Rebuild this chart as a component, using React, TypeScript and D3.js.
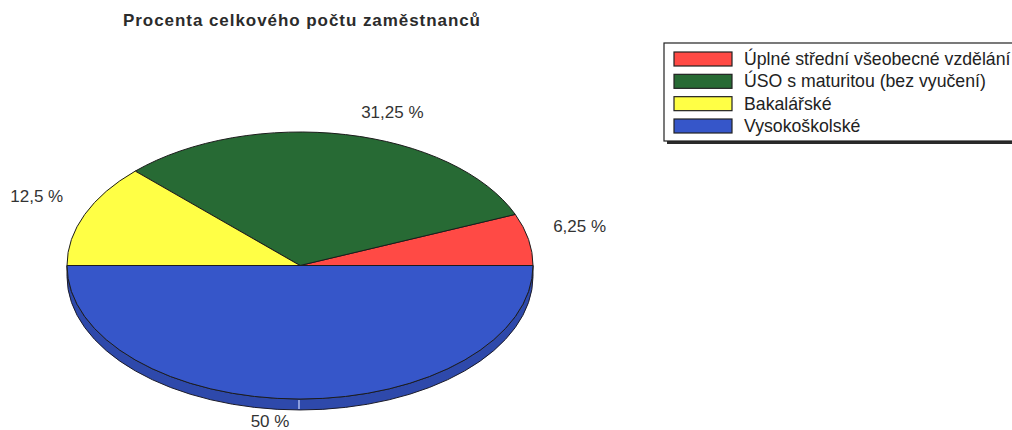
import React, { useEffect, useRef } from 'react'
import * as d3 from 'd3'

// data
const categories = [
  'Úplné střední všeobecné vzdělání',
  'ÚSO s maturitou (bez vyučení)',
  'Bakalářské',
  'Vysokoškolské',
]
const percents = [6.25, 31.25, 12.5, 50]
const valueLabels = ['6,25 %', '31,25 %', '12,5 %', '50 %']
const colors = ['#ff4a45', '#276a34', '#ffff45', '#3656c9']
const title = 'Procenta celkového počtu zaměstnanců'

// label nudges (layout only, dx/dy in px)
const labelNudge = [
  [5, -8],
  [43, 2],
  [-3, -8],
  [-30, -14],
]

export default function App() {
  const ref = useRef(null)

  useEffect(() => {
    const W = 1012, H = 430
    d3.select(ref.current).selectAll('*').remove()
    const svg = d3.select(ref.current)
      .append('svg')
      .attr('width', W)
      .attr('height', H)
      .style('position', 'absolute')
      .style('left', 0)
      .style('top', 0)
      .style('background', '#fff')
      .style('font-family', 'Arial, "Liberation Sans", sans-serif')

    // title
    svg.append('text')
      .attr('x', 301.5)
      .attr('y', 20)
      .attr('text-anchor', 'middle')
      .attr('dominant-baseline', 'central')
      .attr('font-size', 17)
      .attr('font-weight', 'bold')
      .attr('fill', '#2b2b2b')
      .attr('textLength', 357)
      .attr('lengthAdjust', 'spacing')
      .text(title)

    // pie geometry (flattened ellipse + depth)
    const cx = 300, cy = 265.5, rx = 233, ry = 133.5, depth = 11

    // d3 angles: 0 = 12 o'clock; start at 3 o'clock and go counter-clockwise
    const pie = d3.pie<number>().sort(null)
      .startAngle(Math.PI / 2)
      .endAngle(Math.PI / 2 - 2 * Math.PI)
    const arcs = pie(percents)

    const pt = (a, dy = 0) => [cx + rx * Math.sin(a), cy - ry * Math.cos(a) + dy]

    // side wall, front half only (it is all the blue slice)
    const rgt = pt(Math.PI / 2), lft = pt(-Math.PI / 2)
    const sideColor = d3.color(colors[3]).darker(0.45).toString()
    svg.append('path')
      .attr('d', `M${rgt[0]},${rgt[1]} A${rx},${ry} 0 0 1 ${lft[0]},${lft[1]}`
        + ` L${lft[0]},${lft[1] + depth} A${rx},${ry} 0 0 0 ${rgt[0]},${rgt[1] + depth} Z`)
      .attr('fill', sideColor)
      .attr('stroke', '#1c1c2a')
      .attr('stroke-width', 1)

    // leader tick on the wall
    const bot = pt(Math.PI)
    svg.append('line')
      .attr('x1', bot[0] - 1).attr('x2', bot[0] - 1)
      .attr('y1', bot[1] + 1).attr('y2', bot[1] + depth - 1)
      .attr('stroke', '#c9d6ff')
      .attr('stroke-width', 1.2)

    // top face slices
    svg.append('g')
      .selectAll('path')
      .data(arcs)
      .enter()
      .append('path')
      .attr('d', d => {
        const p0 = pt(d.startAngle), p1 = pt(d.endAngle)
        const large = Math.abs(d.endAngle - d.startAngle) > Math.PI ? 1 : 0
        return `M${cx},${cy} L${p0[0]},${p0[1]} A${rx},${ry} 0 ${large} 0 ${p1[0]},${p1[1]} Z`
      })
      .attr('fill', (d, i) => colors[i])
      .attr('stroke', '#1c1c1c')
      .attr('stroke-width', 1)
      .attr('stroke-linejoin', 'round')

    // value labels, placed outside the ellipse at the mid angle
    svg.append('g')
      .selectAll('text')
      .data(arcs)
      .enter()
      .append('text')
      .attr('x', (d, i) => {
        const a = (d.startAngle + d.endAngle) / 2
        return cx + (rx + 20) * Math.sin(a) + labelNudge[i][0]
      })
      .attr('y', (d, i) => {
        const a = (d.startAngle + d.endAngle) / 2
        const c = Math.cos(a)
        return cy - (ry + 25) * c + (c < 0 ? depth : 0) + labelNudge[i][1]
      })
      .attr('text-anchor', d => {
        const s = Math.sin((d.startAngle + d.endAngle) / 2)
        return s > 0.3 ? 'start' : s < -0.3 ? 'end' : 'middle'
      })
      .attr('dominant-baseline', 'central')
      .attr('font-size', 17)
      .attr('fill', '#333')
      .text((d, i) => valueLabels[i])

    // legend (box runs off the right edge like the original)
    const lg = svg.append('g')
    lg.append('rect')
      .attr('x', 667).attr('y', 46)
      .attr('width', 400).attr('height', 98)
      .attr('fill', '#2a2a2a')
    lg.append('rect')
      .attr('x', 664).attr('y', 43)
      .attr('width', 400).attr('height', 98)
      .attr('fill', '#fff')
      .attr('stroke', '#222')
      .attr('stroke-width', 1.2)

    const rowY = d3.scalePoint()
      .domain(categories)
      .range([59, 126])

    const rows = lg.selectAll('g.row')
      .data(categories)
      .enter()
      .append('g')
      .attr('class', 'row')
      .attr('transform', d => 'translate(0,' + rowY(d) + ')')
    rows.append('rect')
      .attr('x', 674).attr('y', -7)
      .attr('width', 58).attr('height', 14)
      .attr('fill', (d, i) => colors[i])
      .attr('stroke', '#222')
      .attr('stroke-width', 1.2)
    rows.append('text')
      .attr('x', 744)
      .attr('dominant-baseline', 'central')
      .attr('font-size', 17.7)
      .attr('fill', '#222')
      .text(d => d)
  }, [])

  return <div ref={ref}></div>
}
